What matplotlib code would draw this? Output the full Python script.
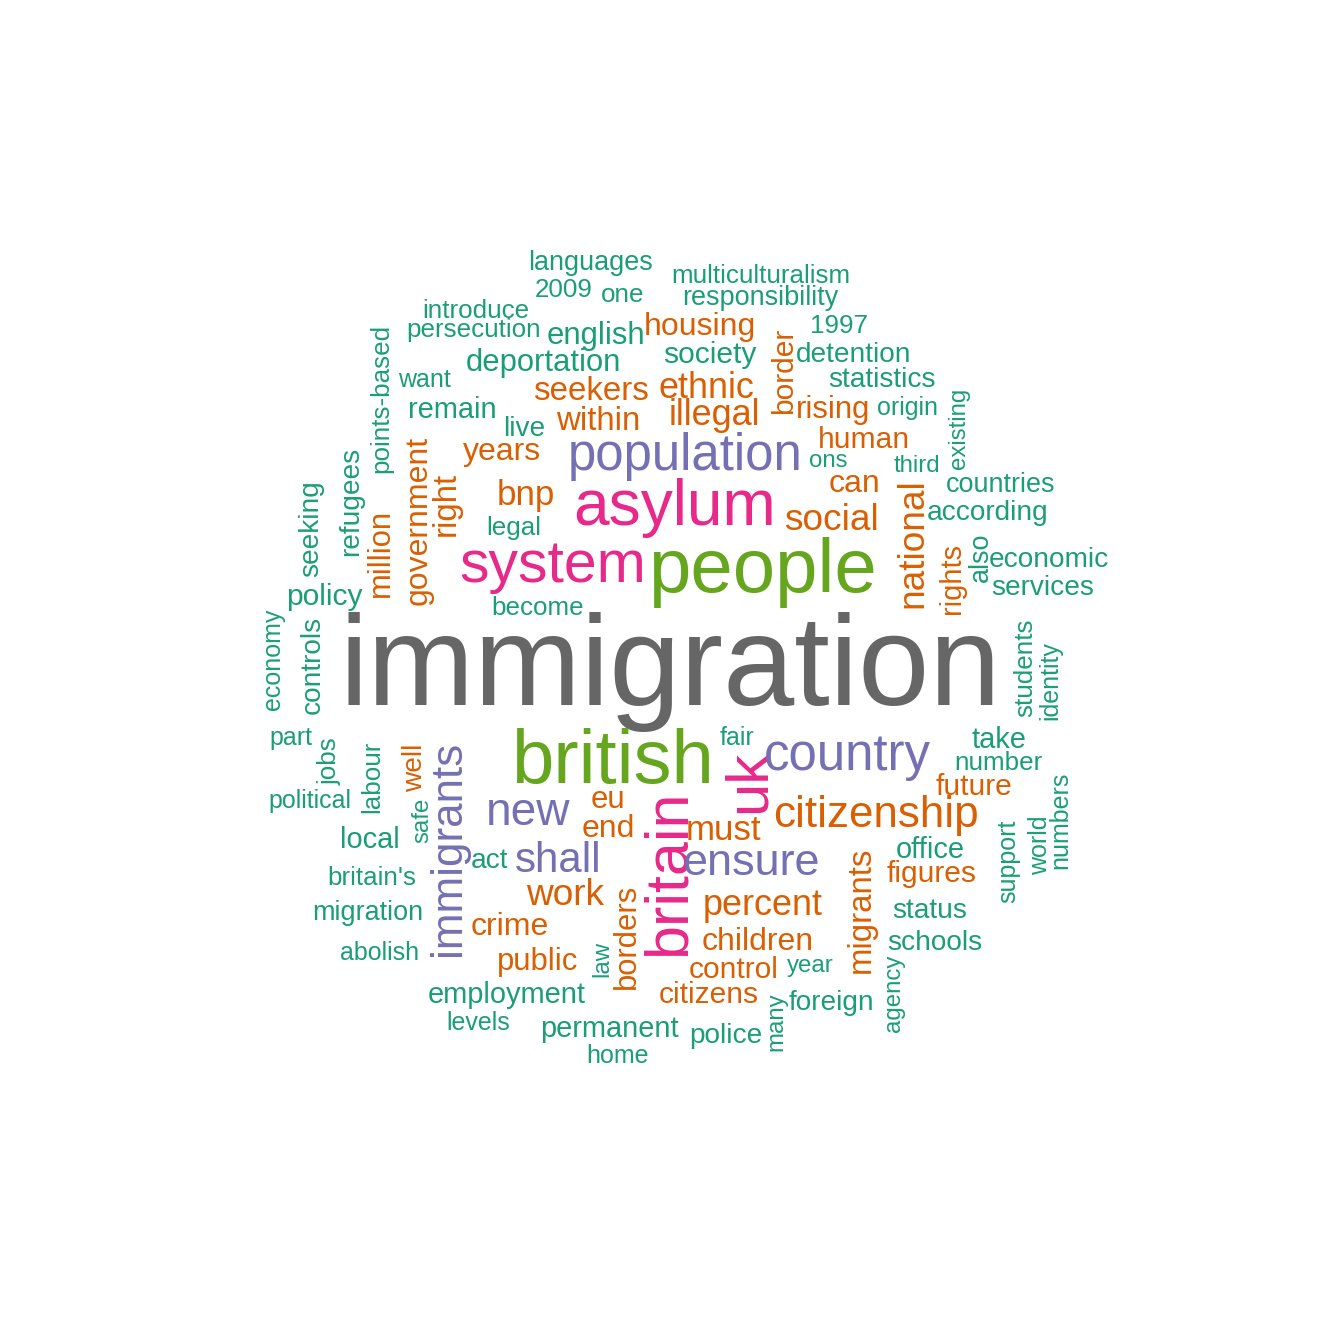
import matplotlib
matplotlib.use("Agg")
import matplotlib.pyplot as plt

# Dark2 palette groups
palette = {"grey": "#666666", "green": "#66A61E", "pink": "#E7298A",
           "purple": "#7570B3", "orange": "#D95F02", "teal": "#1B9E77"}

words = ["immigration","people","british","asylum","system","britain","uk","population",
 "country","new","shall","ensure","immigrants","citizenship","national","social","bnp","illegal",
 "ethnic","percent","work","must","seekers","within","right","government","migrants","years","can",
 "end","children","crime","citizens","eu","public","housing","rising","borders","control","human",
 "million","figures","future","rights","english","deportation","society","employment","local",
 "policy","take","office","remain","permanent","detention","statistics","status","schools","act",
 "foreign","live","according","economic","services","police","refugees","seeking","controls",
 "languages","multiculturalism","responsibility","introduce","persecution","1997","2009","one",
 "want","origin","existing","ons","third","countries","legal","also","become","economy","students",
 "identity","part","jobs","labour","well","fair","number","numbers","political","safe","support",
 "world","britain's","migration","abolish","law","year","agency","many","levels","home","points-based",
 "border"]
groups = ["grey","green","green","pink","pink","pink","pink","purple",
 "purple","purple","purple","purple","purple","orange","orange","orange","orange","orange",
 "orange","orange","orange","orange","orange","orange","orange","orange","orange","orange","orange",
 "orange","orange","orange","orange","orange","orange","orange","orange","orange","orange","orange",
 "orange","orange","orange","orange","teal","teal","teal","teal","teal",
 "teal","teal","teal","teal","teal","teal","teal","teal","teal","teal",
 "teal","teal","teal","teal","teal","teal","teal","teal","teal",
 "teal","teal","teal","teal","teal","teal","teal","teal",
 "teal","teal","teal","teal","teal","teal","teal","teal","teal","teal","teal",
 "teal","teal","teal","teal","orange","teal","teal","teal","teal","teal","teal",
 "teal","teal","teal","teal","teal","teal","teal","teal","teal","teal","teal",
 "orange"]
sizes = [128,76,76,64,59,61,60,51,
 51,46,42,45,44,44,37,37,35,36,
 36,36,37,35,33,33,33,32,33,32,32,
 32,32,32,30,31,31,32,31,31,30,30,
 31,30,30,29,31,31,30,29,29,
 30,29,29,29,29,28,28,28,28,28,
 28,28,28,28,28,28,28,28,28,
 27,26,27,26,26,26,26,26,
 25,25,24,24,24,27,26,27,26,25,26,
 25,25,26,26,28,25,26,25,25,24,25,
 25,26,27,25,24,24,24,24,25,25,26,
 30]

# layout: (x pixel, y pixel, rotation); horizontal -> (center x, baseline y); vertical -> (baseline x, center y)
layout = {
 "immigration":(670,705,0),"people":(762,592,0),"british":(612,783,0),"asylum":(675,525,0),
 "system":(553,582,0),"britain":(685,873,90),"uk":(765,781,90),"population":(685,470,0),
 "country":(847,770,0),"new":(528,825,0),"shall":(558,872,0),"ensure":(751,875,0),
 "immigrants":(460,848,90),"citizenship":(876,827,0),"national":(922,543,90),"social":(831,530,0),
 "bnp":(526,505,0),"illegal":(714,425,0),"ethnic":(706,398,0),"percent":(763,915,0),
 "work":(565,905,0),"must":(724,840,0),"seekers":(591,400,0),"within":(598,430,0),
 "right":(455,504,90),"government":(427,520,90),"migrants":(870,910,90),"years":(502,460,0),
 "can":(855,492,0),"end":(608,837,0),"children":(758,950,0),"crime":(510,935,0),
 "citizens":(709,1003,0),"eu":(608,808,0),"public":(538,970,0),"housing":(700,335,0),
 "rising":(833,418,0),"borders":(635,936,90),"control":(734,978,0),"human":(864,448,0),
 "million":(389,553,90),"figures":(932,882,0),"future":(974,795,0),"rights":(960,578,90),
 "english":(596,344,0),"deportation":(543,371,0),"society":(710,363,0),"employment":(507,1003,0),
 "local":(370,848,0),"policy":(324,605,0),"take":(999,748,0),"office":(930,858,0),
 "remain":(452,418,0),"permanent":(609,1037,0),"detention":(854,362,0),"statistics":(882,387,0),
 "status":(930,918,0),"schools":(935,950,0),"act":(490,868,0),"foreign":(831,1010,0),
 "live":(524,436,0),"according":(988,520,0),"economic":(1049,567,0),"services":(1043,595,0),
 "police":(726,1043,0),"refugees":(358,501,90),"seeking":(318,529,90),"controls":(320,665,90),
 "languages":(591,270,0),"multiculturalism":(761,283,0),"responsibility":(760,305,0),
 "introduce":(476,318,0),"persecution":(474,337,0),"1997":(839,333,0),"2009":(564,297,0),
 "one":(623,302,0),"want":(424,387,0),"origin":(907,415,0),"existing":(965,428,90),
 "ons":(828,467,0),"third":(917,472,0),"countries":(1001,492,0),"legal":(514,535,0),
 "also":(988,557,90),"become":(538,615,0),"economy":(280,659,90),"students":(1032,668,90),
 "identity":(1057,681,90),"part":(291,745,0),"jobs":(337,761,90),"labour":(379,777,90),
 "well":(422,768,90),"fair":(737,745,0),"number":(998,770,0),"numbers":(1067,820,90),
 "political":(310,808,0),"safe":(428,820,90),"support":(1015,861,90),"world":(1047,845,90),
 "britain's":(372,885,0),"migration":(368,920,0),"abolish":(380,960,0),"law":(608,959,90),
 "year":(810,972,0),"agency":(900,993,90),"many":(782,1022,90),"levels":(478,1030,0),
 "home":(617,1063,0),"points-based":(388,398,90),"border":(792,371,90),
}

W = 1344
fig = plt.figure(figsize=(13.44, 13.44), dpi=100)
fig.patch.set_facecolor("white")
for w, g, s in zip(words, groups, sizes):
    x, y, r = layout[w]
    fig.text(x / W, 1 - y / W, w, fontsize=s * 0.72, color=palette[g],
             family=["Liberation Sans", "DejaVu Sans"], rotation=r,
             rotation_mode="anchor", ha="center", va="baseline")
fig.savefig("out.png", dpi=100, facecolor="white")
